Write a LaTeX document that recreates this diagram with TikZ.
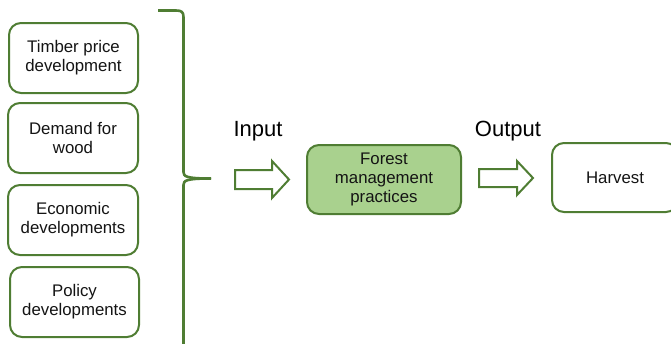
\documentclass[tikz,border=0pt]{standalone}
\usepackage{fontspec}
\setmainfont{Liberation Sans}
\definecolor{dkgreen}{HTML}{4F7D33}
\definecolor{ltgreen}{HTML}{A9D18E}
\definecolor{txt}{HTML}{141414}
\tikzset{
  factor/.style={draw=dkgreen, line width=2pt, rounded corners=12pt, fill=white,
    minimum width=129pt, minimum height=70pt, align=center, text=txt,
    font=\fontsize{16.8}{19}\selectfont, inner sep=0pt},
  blockarrow/.style={draw=dkgreen, line width=2pt, fill=white, line join=miter},
  biglabel/.style={font=\fontsize{22}{26}\selectfont, text=black, inner sep=0pt},
  bracestyle/.style={draw=dkgreen, line width=2.6pt}
}
\begin{document}
\begin{tikzpicture}[x=1pt,y=-1pt]
\useasboundingbox (0,0) rectangle (671,343);
\clip (0,0) rectangle (671,343);
% factor boxes
\node[factor] (timber) at (73.5,58) {Timber price\\development};
\node[factor, minimum width=130pt] (demand) at (73,138) {Demand for\\wood};
\node[factor, minimum width=130pt] (econ) at (73,220) {Economic\\developments};
\node[factor] (policy) at (74.5,302) {Policy\\developments};
% brace
\coordinate (bracetip) at (211,178.5);
\draw[bracestyle] (158,10.5) -- (176,10.5) .. controls (181.5,10.5) and (183.5,12) .. (183.5,17)
  -- (183.5,172) .. controls (183.5,176.5) and (186,178.5) .. (bracetip);
\draw[bracestyle] (bracetip) .. controls (186,178.5) and (183.5,180.5) .. (183.5,185) -- (183.5,350);
% labels
\node[biglabel] (input) at (258,131) {Input};
\node[biglabel] (output) at (508,131) {Output};
% middle box
\node[factor, fill=ltgreen, minimum width=154pt, minimum height=69pt] (forest) at (384,179.5) {\raisebox{-2pt}{\begin{tabular}{@{}c@{}}Forest\\management\\practices\end{tabular}}};
% harvest box
\node[factor, minimum width=126pt, minimum height=69pt] (harvest) at (615,177.5) {Harvest};
% block arrows
\coordinate (ina) at (235,179.5);
\draw[blockarrow] (ina) ++(0,-9.5) -- ++(37,0) -- ++(0,-9) -- ++(17,18.5) -- ++(-17,18.5) -- ++(0,-9) -- ++(-37,0) -- cycle;
\coordinate (outa) at (479,178);
\draw[blockarrow] (outa) ++(0,-9) -- ++(38,0) -- ++(0,-8) -- ++(16,17) -- ++(-16,17) -- ++(0,-8) -- ++(-38,0) -- cycle;
\end{tikzpicture}
\end{document}
